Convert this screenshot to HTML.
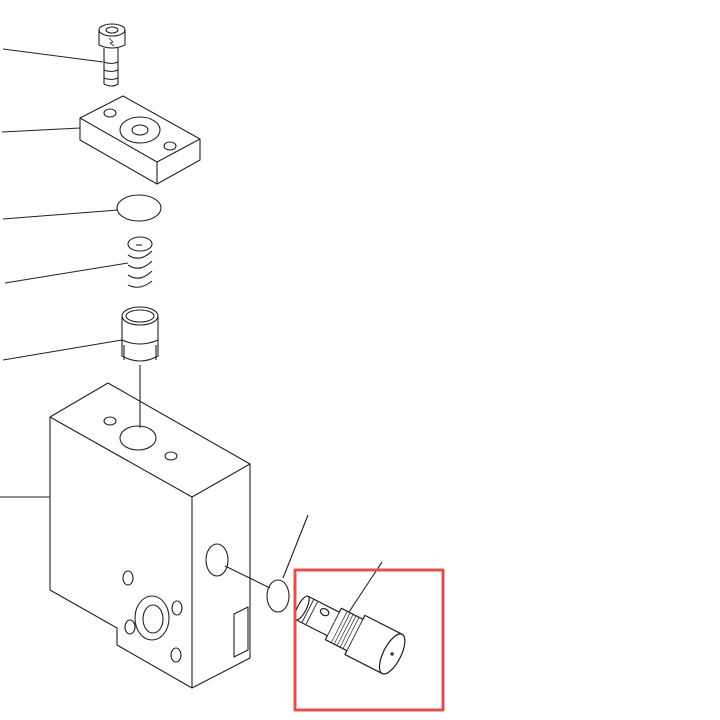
<!DOCTYPE html>
<html><head><style>html,body{margin:0;padding:0;background:#fff}svg{display:block}</style></head>
<body>
<svg width="720" height="720" viewBox="0 0 720 720" xmlns="http://www.w3.org/2000/svg" fill="none" stroke="#222" stroke-width="1.1" stroke-linejoin="round">
<line x1="3" y1="49" x2="103" y2="62"/>
<line x1="2" y1="132" x2="80" y2="128"/>
<line x1="3" y1="219" x2="118" y2="210"/>
<line x1="5" y1="283" x2="128" y2="263"/>
<line x1="3" y1="360" x2="122" y2="340"/>
<line x1="0" y1="497" x2="50" y2="497"/>
<line x1="140" y1="365" x2="140" y2="428"/>
<!-- bolt -->
<path d="M99 30 v15 q13 6 26 0 v-15"/>
<ellipse cx="112" cy="30" rx="13" ry="6"/>
<ellipse cx="112" cy="30" rx="6" ry="3"/>
<path d="M104 48 v36 q8 4 14 0 v-36"/>
<path d="M104 62 q7 3 14 0 M104 70 q7 3 14 0 M104 78 q7 3 14 0"/>
<path d="M109 38 l4 4 -3 1 4 3" stroke-width="0.8"/>
<!-- plate -->
<path d="M80 118 L123 96 L200 139 L157 162 Z"/>
<path d="M80 118 V140 L157 184 L200 160 V139 M157 162 V184"/>
<ellipse cx="140" cy="130" rx="20" ry="13"/>
<ellipse cx="140" cy="130" rx="8" ry="5"/>
<ellipse cx="110" cy="113" rx="6" ry="4"/>
<ellipse cx="170" cy="146" rx="6" ry="4"/>
<ellipse cx="139" cy="208" rx="22" ry="13"/>
<!-- spring -->
<ellipse cx="140" cy="244" rx="12" ry="7"/>
<path d="M136 245 h6"/>
<path d="M128 255 q12 8 24 -4 M128 265 q12 8 24 -4 M128 275 q12 8 24 -4 M128 285 q12 6 24 -4"/>
<!-- piston -->
<path d="M122 316 V356 q18 10 36 0 V316"/>
<ellipse cx="140" cy="316" rx="18" ry="9"/>
<ellipse cx="140" cy="316" rx="14" ry="6"/>
<path d="M122 340 q18 8 36 0 M124 345 v15 M156 345 v15"/>
<!-- block -->
<path d="M50 417 L108 383 L250 464 L192 497 Z"/>
<path d="M50 417 V590 L117 628 V645 L192 688 V497 M192 688 L250 658 V464"/>
<ellipse cx="110" cy="421" rx="6" ry="4"/>
<ellipse cx="138" cy="438" rx="18" ry="12"/>
<ellipse cx="171" cy="456" rx="6" ry="4"/>
<ellipse cx="128" cy="578" rx="5" ry="7"/>
<ellipse cx="177" cy="608" rx="5" ry="7"/>
<ellipse cx="130" cy="627" rx="5" ry="7"/>
<ellipse cx="176" cy="655" rx="5" ry="7"/>
<ellipse cx="152" cy="618" rx="17" ry="22"/>
<ellipse cx="153" cy="619" rx="10" ry="14"/>
<ellipse cx="217" cy="560" rx="11" ry="16"/>
<path d="M234 614 L248 607 V650 L234 657 Z"/>
<line x1="225" y1="566" x2="270" y2="588"/>
<ellipse cx="278" cy="596" rx="11" ry="16"/>
<line x1="283" y1="578" x2="308" y2="515"/>
<line x1="349" y1="612" x2="382" y2="562"/>
<!-- cartridge -->
<g transform="translate(302,608) rotate(27) scale(1.1)">
<path d="M0 -12 H32 V-16 H54 V-20 H92 M0 12 H32 V16 H54 V20 H92"/>
<ellipse cx="0" cy="0" rx="4" ry="12"/>
<ellipse cx="92" cy="0" rx="8" ry="20"/>
<circle cx="92" cy="0" r="1"/>
<path d="M6 -12 v24 M10 -12 v24 M32 -16 v32 M54 -20 v40" stroke-width="0.8"/>
<path d="M38 -16 v32 M41 -16 v32 M44 -16 v32 M47 -16 v32 M50 -16 v32" stroke-width="0.6"/>
<ellipse cx="20" cy="-6" rx="4" ry="3"/>
</g>
<rect x="295" y="570" width="148" height="140" stroke="#e05050" stroke-width="3"/>
</svg>
</body></html>
